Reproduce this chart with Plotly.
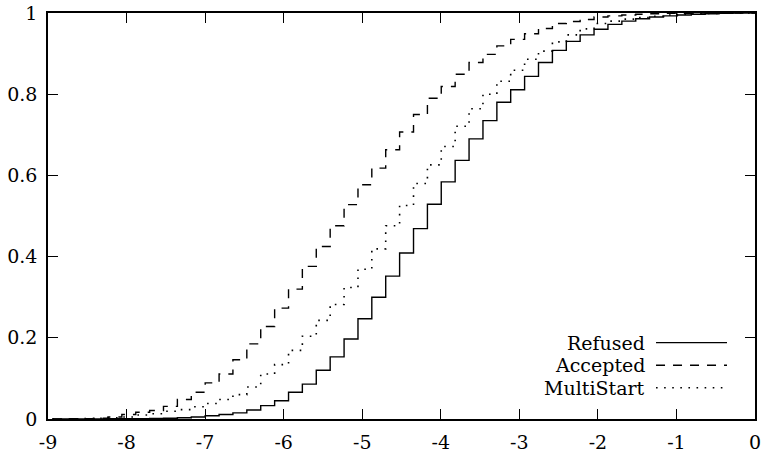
import plotly.graph_objects as go

# step positions (left edge of each step)
step_x = [-8.944, -8.767, -8.590, -8.414, -8.237, -8.060, -7.883, -7.706, -7.530, -7.353,
          -7.176, -6.999, -6.822, -6.646, -6.469, -6.292, -6.115, -5.938, -5.762, -5.585,
          -5.408, -5.231, -5.054, -4.878, -4.701, -4.524, -4.347, -4.170, -3.994, -3.817,
          -3.640, -3.463, -3.286, -3.110, -2.933, -2.756, -2.579, -2.402, -2.226, -2.049,
          -1.872, -1.695, -1.518, -1.342, -1.165, -0.988, -0.811, -0.634, -0.458, -0.281,
          -0.104, 0.0]

refused = [0, 0, 0, 0, 0.0005, 0.001, 0.001, 0.0015, 0.002, 0.003,
           0.005, 0.008, 0.011, 0.015, 0.022, 0.033, 0.045, 0.066, 0.086, 0.120,
           0.153, 0.197, 0.247, 0.300, 0.352, 0.409, 0.469, 0.529, 0.584, 0.637,
           0.690, 0.735, 0.780, 0.811, 0.844, 0.878, 0.908, 0.930, 0.946, 0.960,
           0.972, 0.980, 0.986, 0.990, 0.993, 0.995, 0.997, 0.998, 0.999, 1.0,
           1.0, 1.0]

accepted = [0, 0.0005, 0.001, 0.002, 0.005, 0.011, 0.0165, 0.021, 0.031, 0.048,
            0.066, 0.089, 0.111, 0.146, 0.185, 0.228, 0.273, 0.320, 0.376, 0.425,
            0.476, 0.528, 0.577, 0.618, 0.663, 0.707, 0.750, 0.790, 0.819, 0.849,
            0.878, 0.898, 0.919, 0.935, 0.949, 0.962, 0.974, 0.979, 0.984, 0.990,
            0.993, 0.995, 0.997, 0.998, 0.999, 0.999, 1.0, 1.0, 1.0, 1.0,
            1.0, 1.0]

multistart = [0, 0, 0.001, 0.002, 0.003, 0.005, 0.010, 0.013, 0.019, 0.023,
              0.030, 0.038, 0.048, 0.060, 0.079, 0.111, 0.134, 0.169, 0.204, 0.243,
              0.282, 0.324, 0.369, 0.419, 0.476, 0.526, 0.580, 0.626, 0.671, 0.721,
              0.764, 0.800, 0.832, 0.859, 0.886, 0.906, 0.929, 0.946, 0.961, 0.974,
              0.980, 0.985, 0.989, 0.992, 0.995, 0.997, 0.998, 0.999, 1.0, 1.0,
              1.0, 1.0]

series_names = ["Refused", "Accepted", "MultiStart"]
x_ticks = [-9, -8, -7, -6, -5, -4, -3, -2, -1, 0]
y_ticks = [0, 0.2, 0.4, 0.6, 0.8, 1]
y_tick_labels = ["0", "0.2", "0.4", "0.6", "0.8", "1"]

FONT = "DejaVu Serif"
FSIZE = 19
styles = [
    dict(color="black", width=1.4, dash="solid"),
    dict(color="black", width=1.4, dash="9px,8px"),
    dict(color="black", width=1.6, dash="1.6px,6.5px"),
]

fig = go.Figure()
for name, ys, st in zip(series_names, [refused, accepted, multistart], styles):
    fig.add_trace(go.Scatter(x=step_x, y=ys, mode="lines", name=name,
                             line=dict(shape="hv", **st), showlegend=False,
                             hoverinfo="skip"))

# gnuplot-style key: right-aligned text, sample line on the right
key_y = [0.188, 0.1325, 0.077]
for name, ky, st in zip(series_names, key_y, styles):
    fig.add_annotation(xref="paper", yref="paper", x=0.8455, y=ky, text=name,
                       showarrow=False, xanchor="right", yanchor="middle", borderpad=0,
                       font=dict(family=FONT, size=FSIZE, color="black"))
    fig.add_shape(type="line", xref="paper", yref="paper", x0=0.860, x1=0.9604,
                  y0=ky, y1=ky, line=st)

axis_common = dict(showline=True, linecolor="black", linewidth=1.5, mirror="allticks",
                   ticks="inside", ticklen=10, tickwidth=1.2, tickcolor="black",
                   showgrid=False, zeroline=False, automargin=False,
                   tickfont=dict(family=FONT, size=FSIZE, color="black"))

fig.update_xaxes(range=[-9, 0], tickvals=x_ticks, ticktext=[str(v) for v in x_ticks],
                 ticklabelstandoff=5, **axis_common)
fig.update_yaxes(range=[0, 1], tickvals=y_ticks, ticktext=y_tick_labels,
                 ticklabelstandoff=5, **axis_common)

fig.update_layout(width=762, height=453, margin=dict(l=48, r=7, t=13, b=34),
                  plot_bgcolor="white", paper_bgcolor="white")

fig.write_html("out.html", config={"displayModeBar": False},
               post_script="document.body.style.margin='0';document.body.style.overflow='hidden';")
